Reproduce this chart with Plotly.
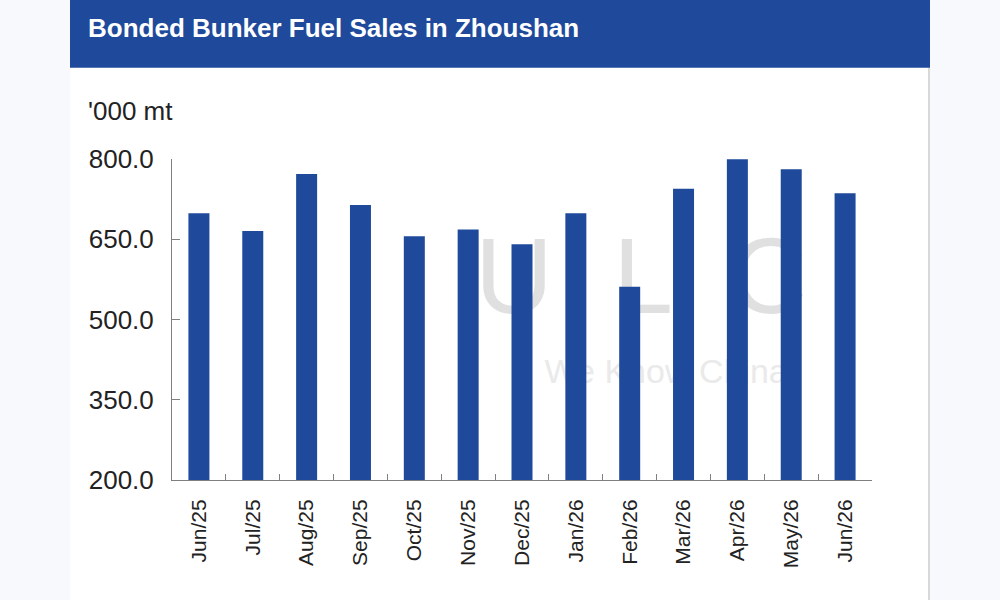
import plotly.graph_objects as go

categories = ["Jun/25", "Jul/25", "Aug/25", "Sep/25", "Oct/25", "Nov/25", "Dec/25",
              "Jan/26", "Feb/26", "Mar/26", "Apr/26", "May/26", "Jun/26"]
sales = [698.5, 665.4, 772.0, 714.0, 655.5, 668.0, 640.5,
         698.5, 561.0, 744.5, 799.5, 781.0, 736.0]
y_ticks = [200, 350, 500, 650, 800]
y_tick_labels = ["200.0", "350.0", "500.0", "650.0", "800.0"]

BLUE = "#1f4a9b"
FONT = "Liberation Sans, Arial, sans-serif"

fig = go.Figure()

# watermark on base (hidden) axes, drawn beneath the bars subplot
fig.add_trace(go.Scatter(
    x=[0.67, 0.706], y=[0.605, 0.33], mode="text",
    text=["U  L  C", "We Know China"],
    textfont=dict(family=FONT, size=[108, 34],
                  color=["rgba(224,224,224,1)", "rgba(234,234,234,1)"]),
    xaxis="x", yaxis="y", hoverinfo="skip", showlegend=False))

fig.add_trace(go.Bar(
    x=categories, y=sales, marker=dict(color=BLUE, line=dict(width=0)),
    xaxis="x2", yaxis="y2", showlegend=False))

fig.update_layout(
    width=1000, height=600,
    margin=dict(l=0, r=0, t=0, b=0, autoexpand=False),
    paper_bgcolor="#f8f9fc",
    plot_bgcolor="rgba(0,0,0,0)",
    bargap=0.61,
    xaxis=dict(domain=[0.172, 0.872], range=[0, 1], visible=False, fixedrange=True),
    yaxis=dict(domain=[0.2, 0.735], range=[0, 1], visible=False, fixedrange=True),
    xaxis2=dict(domain=[0.172, 0.872], anchor="y2", overlaying="x",
                showline=True, linecolor="#808080", linewidth=1,
                ticks="inside", ticklen=6, tickcolor="#808080",
                tickson="boundaries", tickangle=-90, ticklabelstandoff=10,
                tickfont=dict(family=FONT, size=21, color="#222222"),
                showgrid=False, zeroline=False, automargin=False),
    yaxis2=dict(domain=[0.2, 0.735], anchor="x2", overlaying="y",
                range=[200, 800], tickvals=y_ticks, ticktext=y_tick_labels,
                showline=True, linecolor="#808080", linewidth=1,
                ticks="inside", ticklen=8, tickcolor="#808080",
                ticklabelstandoff=12,
                tickfont=dict(family=FONT, size=26, color="#222222"),
                showgrid=False, zeroline=False, automargin=False),
    shapes=[
        dict(type="rect", xref="paper", yref="paper", x0=0.07, x1=0.929, y0=0, y1=1,
             fillcolor="white", line=dict(width=0), layer="below"),
        dict(type="line", xref="paper", yref="paper", x0=0.929, x1=0.929, y0=0, y1=0.887,
             line=dict(color="#d8d8d8", width=2), layer="below"),
        dict(type="rect", xref="paper", yref="paper", x0=0.07, x1=0.930, y0=0.887, y1=1,
             fillcolor=BLUE, line=dict(width=0), layer="below"),
    ],
    annotations=[
        dict(text="<b>Bonded Bunker Fuel Sales in Zhoushan</b>", xref="paper", yref="paper",
             x=0.086, y=0.953, xanchor="left", yanchor="middle", showarrow=False,
             font=dict(family=FONT, size=26, color="white")),
        dict(text="'000 mt", xref="paper", yref="paper",
             x=0.086, y=0.815, xanchor="left", yanchor="middle", showarrow=False,
             font=dict(family=FONT, size=26, color="#222222")),
    ],
)

fig.write_html("out.html")
